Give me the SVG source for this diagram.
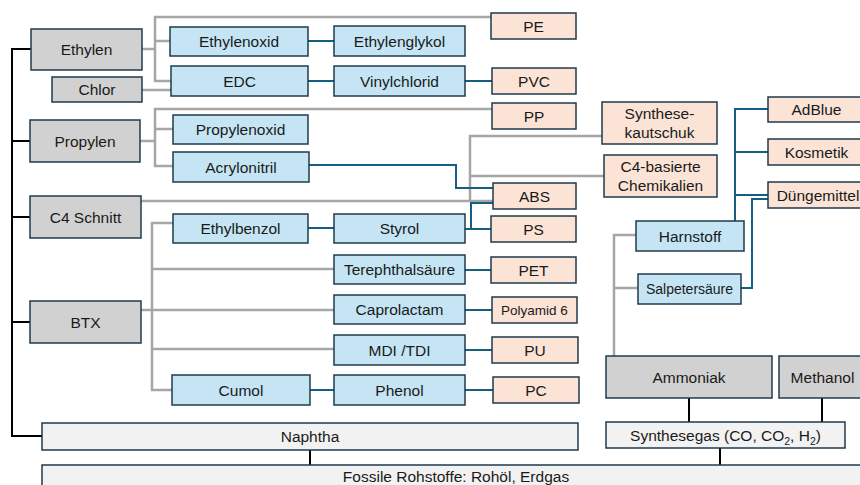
<svg xmlns="http://www.w3.org/2000/svg" width="860" height="485" viewBox="0 0 860 485">
<style>
  .g rect, .b rect, .p rect, .l rect { stroke: #203a4c; stroke-width: 1.5; }
  .g rect { fill: #d1d1d1; }
  .b rect { fill: #c5e5f5; }
  .p rect { fill: #fbe3d6; }
  .l rect { fill: #f2f2f2; }
  text { font-family: "Liberation Sans", Arial, sans-serif; font-size: 15.5px; fill: #1a1a1a; text-anchor: middle; }
  .s { font-size: 14px; }
  .xs { font-size: 13.5px; }
  .cg path { stroke: #a6a6a6; stroke-width: 2.5; fill: none; }
  .cb path { stroke: #156082; stroke-width: 2; fill: none; }
  .ck path { stroke: #000000; stroke-width: 2; fill: none; }
</style>
<g id="connectors">
  <g class="ck">
    <path d="M42,436 H12 V49 H31"/>
    <path d="M12,141 H30"/>
    <path d="M12,217 H30"/>
    <path d="M12,322 H30"/>
    <path d="M310,450 V465"/>
    <path d="M689,398 V422"/>
    <path d="M822,398 V422"/>
    <path d="M720,448 V465"/>
  </g>
  <g class="cg">
    <path d="M142,49 H155"/>
    <path d="M491,17 H155 V81 H171"/>
    <path d="M155,41 H170"/>
    <path d="M142,90 H171"/>
    <path d="M140,141 H155"/>
    <path d="M492,109 H155 V166 H173"/>
    <path d="M155,129 H173"/>
    <path d="M141,201 H493"/>
    <path d="M470,201 V136 H602"/>
    <path d="M470,176 H604"/>
    <path d="M141,310 H334"/>
    <path d="M173,223 H152 V390 H172"/>
    <path d="M152,269 H334"/>
    <path d="M152,349 H334"/>
    <path d="M636,235 H614 V356"/>
    <path d="M614,288 H638"/>
  </g>
  <g class="cb">
    <path d="M308,41 H334"/>
    <path d="M308,81 H334"/>
    <path d="M465,81 H492"/>
    <path d="M309,165 H456 V188 H493"/>
    <path d="M308,228 H334"/>
    <path d="M465,229 H491"/>
    <path d="M471,229 V203 H493"/>
    <path d="M465,270 H491"/>
    <path d="M465,310 H492"/>
    <path d="M465,350 H492"/>
    <path d="M310,390 H334"/>
    <path d="M465,390 H493"/>
    <path d="M735,221 V109 H768"/>
    <path d="M735,152 H768"/>
    <path d="M735,195 H768"/>
    <path d="M741,288 H752 V199 H768"/>
  </g>
</g>
<g id="ethylen" class="g"><rect x="31" y="29" width="111" height="41"/><text x="86.5" y="55">Ethylen</text></g>
<g id="chlor" class="g"><rect x="52" y="77" width="90" height="25"/><text x="97" y="95">Chlor</text></g>
<g id="propylen" class="g"><rect x="30" y="120" width="110" height="42"/><text x="85" y="146.5">Propylen</text></g>
<g id="c4schnitt" class="g"><rect x="30" y="196" width="111" height="42"/><text x="85.5" y="222.5">C4 Schnitt</text></g>
<g id="btx" class="g"><rect x="30" y="301" width="111" height="42"/><text x="85.5" y="327.5">BTX</text></g>
<g id="ammoniak" class="g"><rect x="606" y="356" width="166" height="42"/><text x="689" y="382.5">Ammoniak</text></g>
<g id="methanol" class="g"><rect x="779" y="356" width="88" height="42"/><text x="822.5" y="382.5">Methanol</text></g>
<g id="naphtha" class="l"><rect x="42" y="423" width="536" height="27"/><text x="310" y="442">Naphtha</text></g>
<g id="fossil" class="l"><rect x="42" y="465" width="830" height="26"/><text x="456" y="481.5">Fossile Rohstoffe: Rohöl, Erdgas</text></g>
<g id="synthesegas" class="l"><rect x="606" y="422" width="239" height="26"/><text x="725.5" y="440.5">Synthesegas (CO, CO<tspan font-size="10.5" dy="4">2</tspan><tspan dy="-4">, H</tspan><tspan font-size="10.5" dy="4">2</tspan><tspan dy="-4">)</tspan></text></g>

<g id="ethylenoxid" class="b"><rect x="170" y="27" width="138" height="29"/><text x="239" y="46.5">Ethylenoxid</text></g>
<g id="ethylenglykol" class="b"><rect x="334" y="26" width="131" height="30"/><text x="399.5" y="46.5">Ethylenglykol</text></g>
<g id="edc" class="b"><rect x="171" y="66" width="137" height="30"/><text x="239.5" y="86.5">EDC</text></g>
<g id="vinylchlorid" class="b"><rect x="334" y="66" width="131" height="30"/><text x="399.5" y="86.5">Vinylchlorid</text></g>
<g id="propylenoxid" class="b"><rect x="173" y="115" width="135" height="29"/><text x="240.5" y="135">Propylenoxid</text></g>
<g id="acrylonitril" class="b"><rect x="173" y="152" width="136" height="30"/><text x="241" y="172.5">Acrylonitril</text></g>
<g id="ethylbenzol" class="b"><rect x="173" y="214" width="135" height="29"/><text x="240.5" y="234">Ethylbenzol</text></g>
<g id="styrol" class="b"><rect x="334" y="214" width="131" height="29"/><text x="399.5" y="234">Styrol</text></g>
<g id="terephthalsaeure" class="b"><rect x="334" y="255" width="131" height="29"/><text x="399.5" y="275">Terephthalsäure</text></g>
<g id="caprolactam" class="b"><rect x="334" y="295" width="131" height="29"/><text x="399.5" y="315">Caprolactam</text></g>
<g id="mditdi" class="b"><rect x="334" y="335" width="131" height="30"/><text x="399.5" y="355.5">MDI /TDI</text></g>
<g id="cumol" class="b"><rect x="172" y="375" width="138" height="30"/><text x="241" y="395.5">Cumol</text></g>
<g id="phenol" class="b"><rect x="334" y="375" width="131" height="30"/><text x="399.5" y="395.5">Phenol</text></g>
<g id="harnstoff" class="b"><rect x="636" y="221" width="108" height="30"/><text x="690" y="241.5">Harnstoff</text></g>
<g id="salpetersaeure" class="b"><rect x="638" y="274" width="103" height="30"/><text class="s" x="689.5" y="294">Salpetersäure</text></g>

<g id="pe" class="p"><rect x="491" y="13" width="85" height="26"/><text x="533.5" y="31.5">PE</text></g>
<g id="pvc" class="p"><rect x="492" y="68" width="84" height="26"/><text x="534" y="86.5">PVC</text></g>
<g id="pp" class="p"><rect x="492" y="103" width="84" height="26"/><text x="534" y="121.5">PP</text></g>
<g id="abs" class="p"><rect x="493" y="183" width="83" height="26"/><text x="534.5" y="201.5">ABS</text></g>
<g id="ps" class="p"><rect x="491" y="216" width="85" height="26"/><text x="533.5" y="234.5">PS</text></g>
<g id="pet" class="p"><rect x="491" y="257" width="85" height="26"/><text x="533.5" y="275.5">PET</text></g>
<g id="polyamid6" class="p"><rect x="492" y="297" width="85" height="26"/><text class="xs" x="534.5" y="315">Polyamid 6</text></g>
<g id="pu" class="p"><rect x="492" y="337" width="86" height="26"/><text x="535" y="355.5">PU</text></g>
<g id="pc" class="p"><rect x="493" y="377" width="86" height="26"/><text x="536" y="395.5">PC</text></g>
<g id="synthesekautschuk" class="p"><rect x="602" y="102" width="115" height="42"/><text x="659.5" y="118.5">Synthese-</text><text x="659.5" y="137.5">kautschuk</text></g>
<g id="c4chemikalien" class="p"><rect x="604" y="155" width="113" height="42"/><text x="660.5" y="171.5">C4-basierte</text><text x="660.5" y="190.5">Chemikalien</text></g>
<g id="adblue" class="p"><rect x="768" y="97" width="97" height="25"/><text x="816.5" y="115">AdBlue</text></g>
<g id="kosmetik" class="p"><rect x="768" y="139" width="97" height="26"/><text x="816.5" y="157.5">Kosmetik</text></g>
<g id="duengemittel" class="p"><rect x="768" y="182" width="100" height="26"/><text x="818" y="200.5">Düngemittel</text></g>
</svg>
